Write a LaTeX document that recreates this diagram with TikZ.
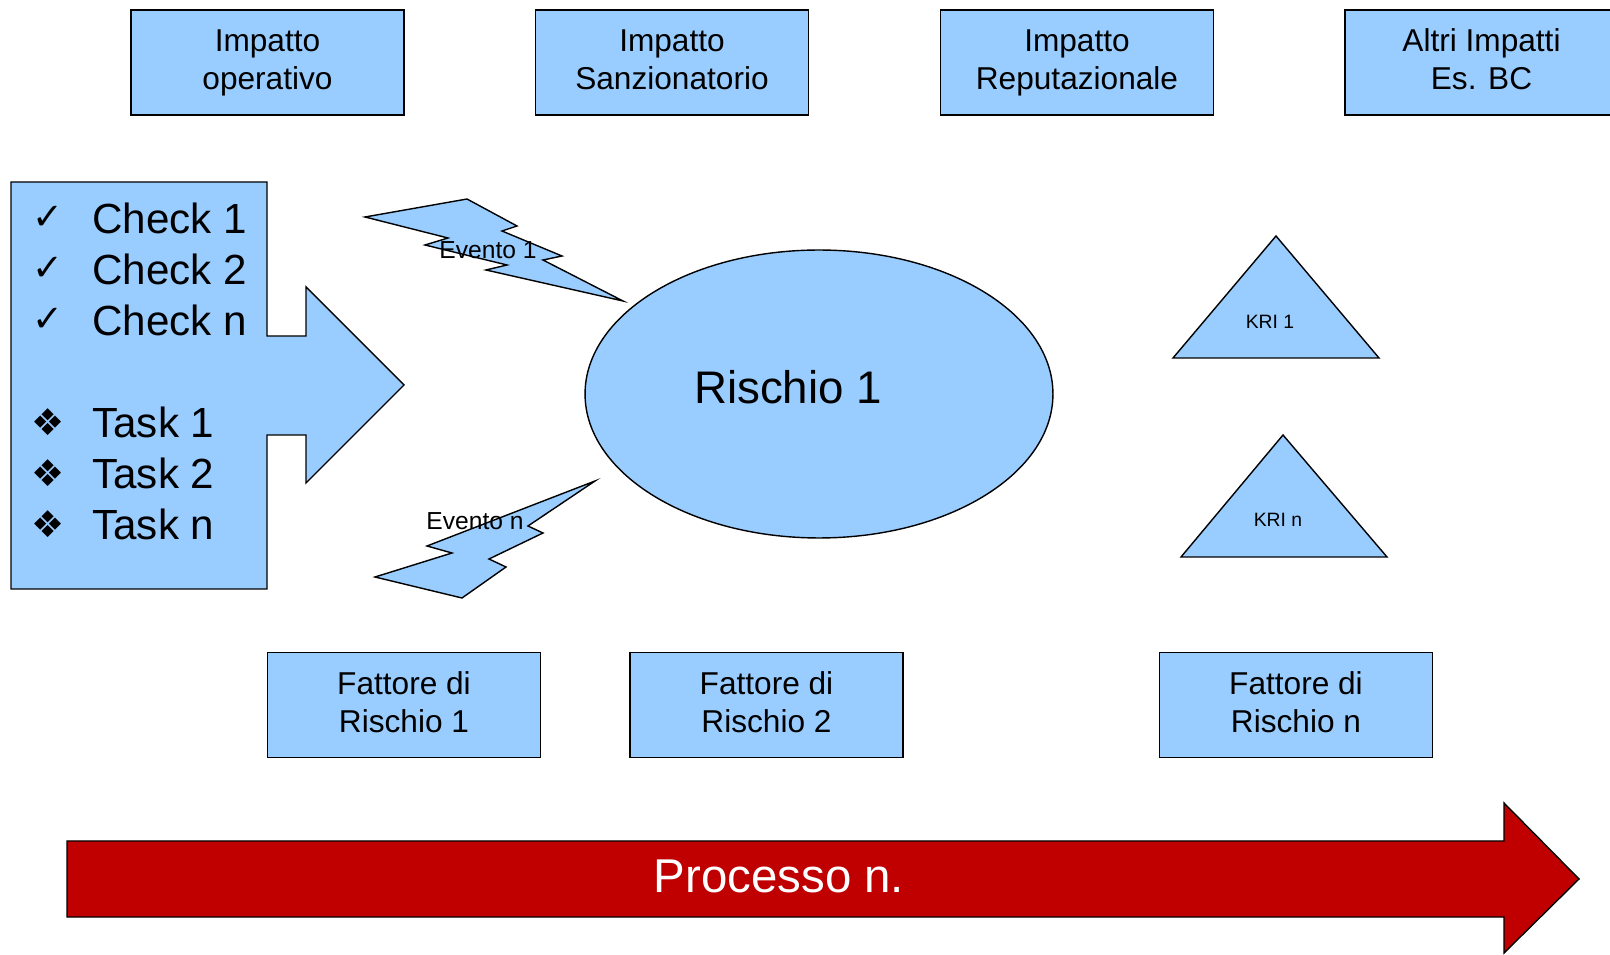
\documentclass[tikz,border=0pt]{standalone}
\usepackage{fontspec}
\setmainfont{Liberation Sans}
\newfontfamily\symfont{DejaVu Sans}
\usetikzlibrary{shapes.geometric}
\definecolor{celeste}{HTML}{99CCFF}
\definecolor{rosso}{HTML}{C00000}
\tikzset{
	forma/.style={draw, line width=0.8pt, fill=celeste},
	box/.style={forma, minimum width=5.46cm, minimum height=2.1cm, inner sep=0pt, align=center,
		text height=35pt, text depth=4pt, font=\fontsize{18}{21.5}\selectfont},
	voce/.style={inner sep=0pt, font=\fontsize{24}{28}\selectfont},
	simb/.style={inner sep=0pt, font=\symfont\fontsize{21}{24}\selectfont},
}
\begin{document}
\begin{tikzpicture}[x=0.02cm, y=-0.02cm, line join=miter]
	\useasboundingbox (0,0) rectangle (1610,955);
	\clip (0,0) rectangle (1610,955);
	% impatti in alto
	\foreach \x/\nome/\testo in {267.5/imop/Impatto\\operativo, 672/imsa/Impatto\\Sanzionatorio, 1077/imre/Impatto\\Reputazionale, 1481.5/imal/Altri Impatti\\Es. BC}{
		\node[box] (\nome) at (\x,62.5) {\testo};
	}
	% fattori di rischio
	\foreach \x/\nome/\testo in {404/fr1/Fattore di\\Rischio 1, 766.5/fr2/Fattore di\\Rischio 2, 1296/frn/Fattore di\\Rischio n}{
		\node[box] (\nome) at (\x,705) {\testo};
	}
	% blocco check / task a freccia
	\draw[forma] (11,182) -- (267,182) -- (267,336) -- (306,336) -- (306,287) -- (404,385)
		-- (306,483) -- (306,435) -- (267,435) -- (267,589) -- (11,589) -- cycle;
	\foreach \y/\simbolo/\voce/\nome in {218/✓/Check 1/c1, 269/✓/Check 2/c2, 320/✓/Check n/cn, 422/❖/Task 1/t1, 473/❖/Task 2/t2, 524/❖/Task n/tn}{
		\node[simb] (s\nome) at (48,\y) {\simbolo};
		\node[voce, anchor=west] (\nome) at (92,\y) {\voce};
	}
	% rischio
	\node[forma, ellipse, minimum width=9.36cm, minimum height=5.76cm] (rischio) at (819,394) {};
	\node[font=\fontsize{26}{31}\selectfont] (rischiotesto) at (788,387) {Rischio 1};
	% eventi
	\draw[forma] (365,217) -- (467,199) -- (517,226) -- (502,231) -- (562,256) -- (543,260)
		-- (623,301) -- (486,270) -- (507,265) -- (425,245) -- (448,238) -- cycle;
	\node[font=\fontsize{14}{16}\selectfont] (ev1) at (488,250) {Evento 1};
	\draw[forma] (595,481) -- (528,526) -- (543,533) -- (489,559) -- (506,567) -- (462,598)
		-- (375,577) -- (452,553) -- (427,546) -- cycle;
	\node[font=\fontsize{14}{16}\selectfont] (evn) at (475,521) {Evento n};
	% KRI
	\draw[forma] (1276,236) -- (1379,358) -- (1173,358) -- cycle;
	\node[font=\fontsize{11}{13}\selectfont] (kri1) at (1270,322) {KRI 1};
	\draw[forma] (1283,435) -- (1387,557) -- (1181,557) -- cycle;
	\node[font=\fontsize{11}{13}\selectfont] (krin) at (1278,520) {KRI n};
	% processo
	\draw[line width=0.8pt, fill=rosso] (67,841) -- (1504,841) -- (1504,803) -- (1579,879)
		-- (1504,953) -- (1504,917) -- (67,917) -- cycle;
	\node[text=white, font=\fontsize{27}{32}\selectfont] (processo) at (779,876) {Processo n.};
\end{tikzpicture}
\end{document}
